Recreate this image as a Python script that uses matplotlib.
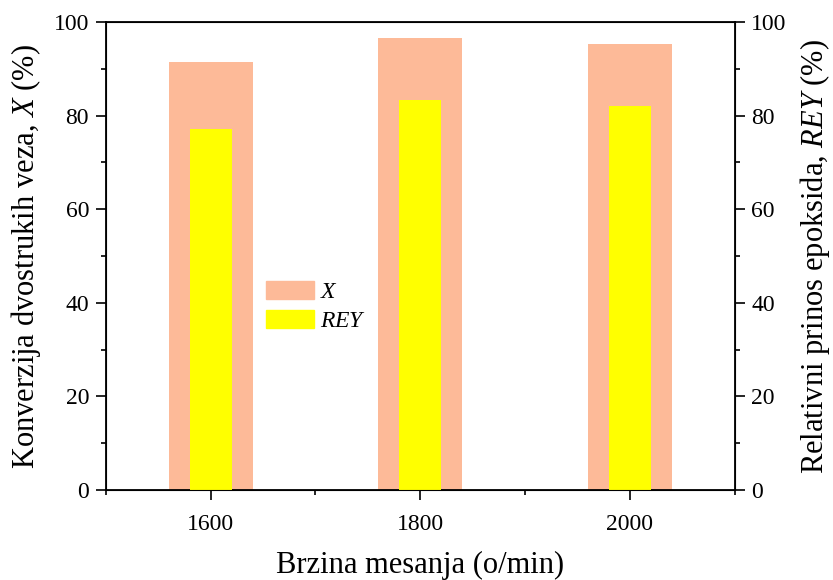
import matplotlib
matplotlib.use("Agg")
import matplotlib.pyplot as plt
from matplotlib.patches import Patch
from matplotlib.ticker import MultipleLocator, FixedLocator

plt.rcParams['font.family'] = ['Liberation Serif', 'DejaVu Serif']
plt.rcParams['mathtext.fontset'] = 'custom'
plt.rcParams['mathtext.rm'] = 'Liberation Serif'
plt.rcParams['mathtext.it'] = 'Liberation Serif:italic'

# mixing speed (o/min) and results
speeds = [1600, 1800, 2000]
conversion_x = [91.4, 96.5, 95.4]
rey = [77.2, 83.3, 82.1]

x_color = '#FDBA98'
rey_color = '#FFFF00'

fig = plt.figure(figsize=(8.33, 5.8), dpi=100)
ax = fig.add_axes([0.127, 0.155, 0.755, 0.807])

ax.bar(speeds, conversion_x, width=80, color=x_color, zorder=2)
ax.bar(speeds, rey, width=40, color=rey_color, zorder=3)

ax.set_xlim(1500, 2100)
ax.set_ylim(0, 100)
ax.set_xticks(speeds)
ax.xaxis.set_minor_locator(FixedLocator([1500, 1700, 1900, 2100]))
ax.set_yticks(range(0, 101, 20))
ax.yaxis.set_minor_locator(MultipleLocator(10))

ax.set_xlabel('Brzina mesanja (o/min)', fontsize=22, labelpad=12)
ax.set_ylabel(r'Konverzija dvostrukih veza, $X$ (%)', fontsize=22, labelpad=8)

ax.tick_params(which='major', direction='out', length=7, width=1.2)
ax.tick_params(which='minor', direction='out', length=3.6, width=1.2)
ax.tick_params(axis='x', which='major', labelsize=17, pad=10)
ax.tick_params(axis='y', which='major', labelsize=17, pad=5)
for sp in ax.spines.values():
    sp.set_linewidth(1.3)

ax2 = ax.twinx()
ax2.set_ylim(0, 100)
ax2.set_yticks(range(0, 101, 20))
ax2.yaxis.set_minor_locator(MultipleLocator(10))
ax2.tick_params(which='major', direction='out', length=7, width=1.2,
                labelsize=17, pad=5)
ax2.tick_params(which='minor', direction='out', length=3.6, width=1.2)
ax2.set_ylabel(r'Relativni prinos epoksida, $REY$ (%)', fontsize=22,
               labelpad=8)

handles = [Patch(color=x_color), Patch(color=rey_color)]
ax.legend(handles, [r'$X$', r'$REY$'], loc='center left',
          bbox_to_anchor=(0.254, 0.392), frameon=False, fontsize=17,
          borderpad=0, borderaxespad=0,
          handlelength=2.05, handleheight=0.78, handletextpad=0.25,
          labelspacing=0.3)

fig.savefig('out.png', dpi=100)
